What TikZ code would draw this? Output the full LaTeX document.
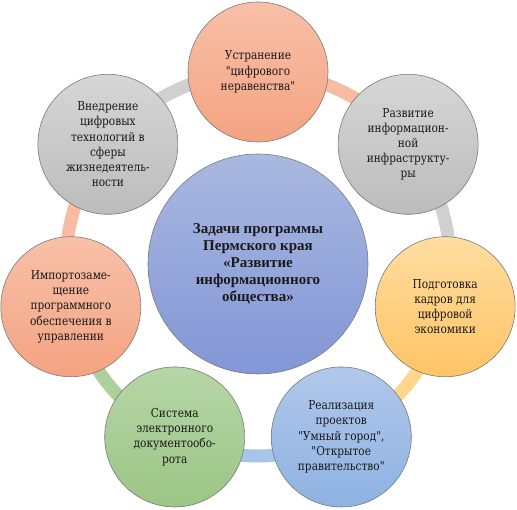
\documentclass[tikz,border=0pt]{standalone}
\usepackage{fontspec}
\newfontfamily\dgserif{DejaVu Serif}[FakeStretch=0.86]
\newfontfamily\dgbold{Liberation Serif}
\usepackage{xcolor}
\usepackage{tikz}
\usetikzlibrary{backgrounds}
\newcommand{\dq}{\char34\relax}
\definecolor{dgInk}{HTML}{1A1A1A}
\definecolor{dgEdge}{HTML}{7A7A7A}
\definecolor{dgSalmonTop}{HTML}{F8C0A8}
\definecolor{dgSalmonBot}{HTML}{F4A382}
\definecolor{dgGrayTop}{HTML}{D6D6D6}
\definecolor{dgGrayBot}{HTML}{BCBCBC}
\definecolor{dgYellowTop}{HTML}{FFDDA0}
\definecolor{dgYellowBot}{HTML}{FFC466}
\definecolor{dgBlueTop}{HTML}{B0C8EA}
\definecolor{dgBlueBot}{HTML}{8EB2E2}
\definecolor{dgGreenTop}{HTML}{B6D6A6}
\definecolor{dgGreenBot}{HTML}{9BC585}
\definecolor{dgCoreTop}{HTML}{A9B8E0}
\definecolor{dgCoreBot}{HTML}{8396D6}
\definecolor{dgRingSalmon}{HTML}{F7BCA3}
\definecolor{dgRingGray}{HTML}{D0D0D0}
\definecolor{dgRingYellow}{HTML}{FFD68C}
\definecolor{dgRingBlue}{HTML}{A9C4EA}
\definecolor{dgRingGreen}{HTML}{ADD09C}
\tikzset{
  % Central circle
  corebox/.style={circle,minimum size=220pt,inner sep=0pt,
    draw=dgEdge,line width=0.6pt,
    top color=dgCoreTop,bottom color=dgCoreBot,
    align=center,font=\dgbold\fontsize{15}{17}\selectfont\bfseries,text=dgInk},
  % Outer task circle
  taskbox/.style={circle,minimum size=140pt,inner sep=0pt,
    draw=dgEdge,line width=0.6pt,
    align=center,font=\dgserif\fontsize{12.3}{15.2}\selectfont,text=dgInk},
  salmon/.style={top color=dgSalmonTop,bottom color=dgSalmonBot},
  grayish/.style={top color=dgGrayTop,bottom color=dgGrayBot},
  yellowish/.style={top color=dgYellowTop,bottom color=dgYellowBot},
  bluish/.style={top color=dgBlueTop,bottom color=dgBlueBot},
  greenish/.style={top color=dgGreenTop,bottom color=dgGreenBot},
  % Ring segment
  ring/.style={line width=13pt},
}
\begin{document}
\begin{tikzpicture}[x=1pt,y=1pt]
  \useasboundingbox (0,0) rectangle (517,510);
  \begin{scope}[shift={(258,246)}]
    \node[corebox] (core) at (0,0)
      {Задачи программы\\Пермского края\\«Развитие\\информационного\\общества»};

    % Outer circles, clockwise from the top
    \node[taskbox,salmon] (gap) at (90:192)
      {Устранение\\\dq цифрового\\неравенства\dq};
    \node[taskbox,grayish] (infra) at (38.57:192)
      {Развитие\\информацион-\\ной\\инфраструкту-\\ры};
    \node[taskbox,yellowish] (staff) at (-12.86:192)
      {Подготовка\\кадров для\\цифровой\\экономики};
    \node[taskbox,bluish] (city) at (-64.29:192)
      {Реализация\\проектов\\\dq Умный город\dq,\\\dq Открытое\\правительство\dq};
    \node[taskbox,greenish] (docs) at (-115.71:192)
      {Система\\электронного\\документообо-\\рота};
    \node[taskbox,salmon] (soft) at (-167.14:192)
      {Импортозаме-\\щение\\программного\\обеспечения в\\управлении};
    \node[taskbox,grayish] (tech) at (141.43:192)
      {Внедрение\\цифровых\\технологий  в\\сферы\\жизнедеятель-\\ности};

    % Ring behind the circles
    \begin{scope}[on background layer]
      \draw[ring,dgRingSalmon] (gap.center)
        arc[start angle=90,end angle=38.57,radius=192];
      \draw[ring,dgRingGray] (infra.center)
        arc[start angle=38.57,end angle=-12.86,radius=192];
      \draw[ring,dgRingYellow] (staff.center)
        arc[start angle=-12.86,end angle=-64.29,radius=192];
      \draw[ring,dgRingBlue] (city.center)
        arc[start angle=-64.29,end angle=-115.71,radius=192];
      \draw[ring,dgRingGreen] (docs.center)
        arc[start angle=-115.71,end angle=-167.14,radius=192];
      \draw[ring,dgRingSalmon] (soft.center)
        arc[start angle=-167.14,end angle=-218.57,radius=192];
      \draw[ring,dgRingGray] (tech.center)
        arc[start angle=141.43,end angle=90,radius=192];
    \end{scope}
  \end{scope}
\end{tikzpicture}
\end{document}
